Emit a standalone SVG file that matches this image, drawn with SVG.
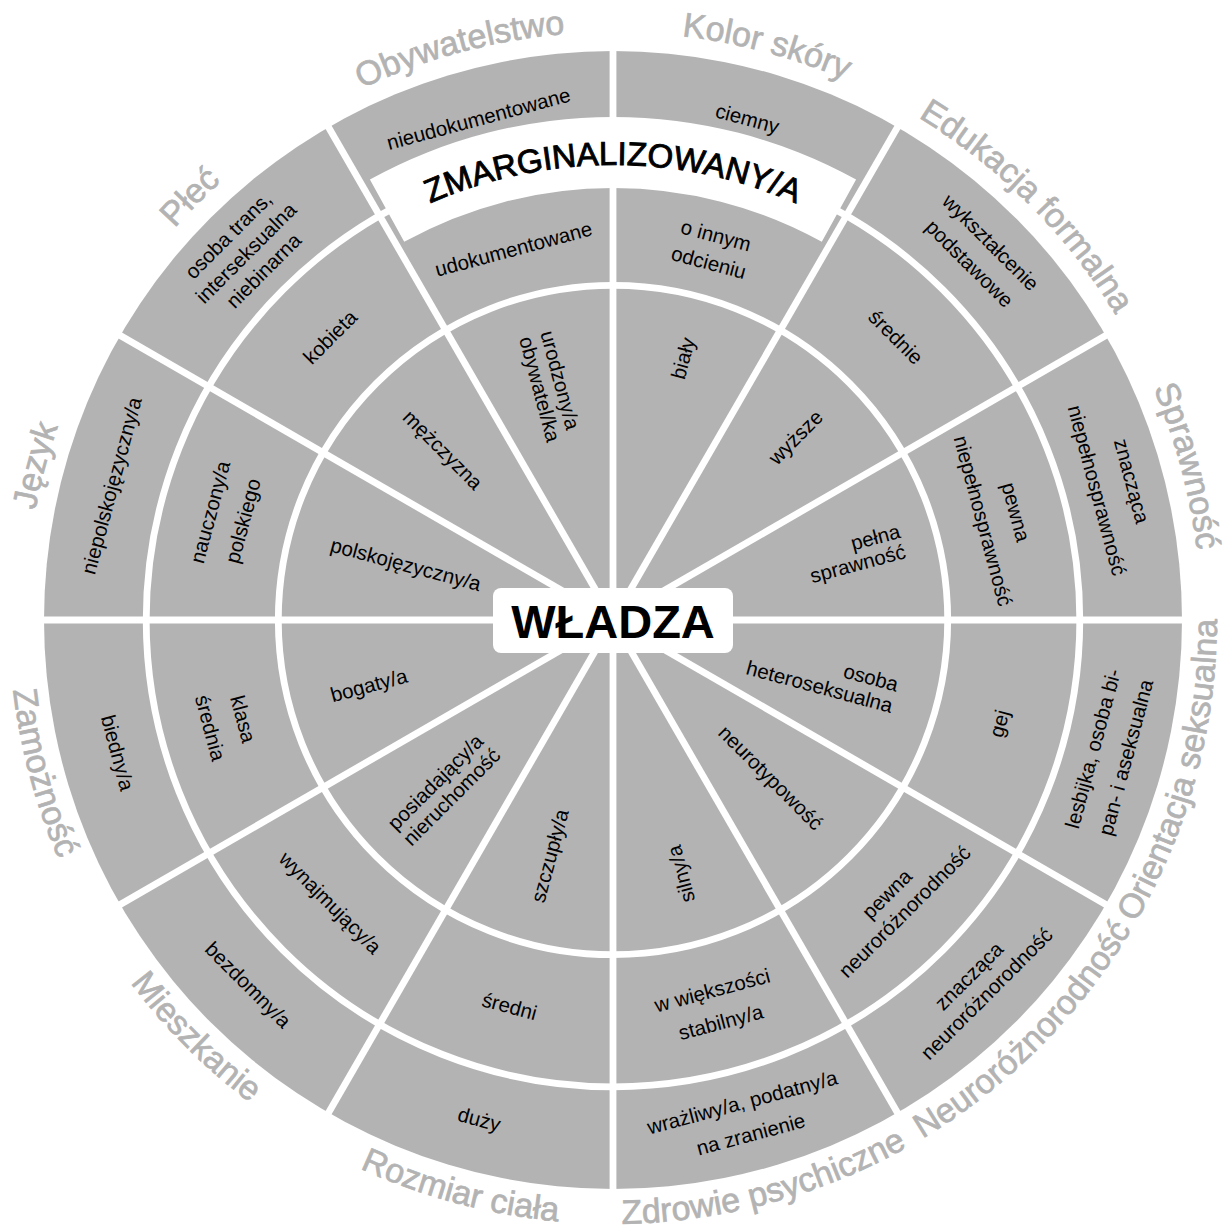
<svg xmlns="http://www.w3.org/2000/svg" xmlns:xlink="http://www.w3.org/1999/xlink" width="1230" height="1230" viewBox="0 0 1230 1230">
<style>
.t{font-family:"Liberation Sans",Arial,sans-serif;font-size:20.5px;fill:#000}
.lbl{font-family:"Liberation Sans",Arial,sans-serif;font-size:34px;fill:#b3b3b3;stroke:#b3b3b3;stroke-width:0.7}
.gap{stroke:#fff;stroke-width:6.8;fill:none}
</style>
<defs>
<path id="arcTop" d="M 103.8 326 A 588 588 0 0 1 1122.2 326"/>
<path id="arcBot" d="M 90.0 922 A 604 604 0 0 0 1136.0 922"/>
<path id="arcBand" d="M 218.95 392.5 A 455 455 0 0 1 1007.05 392.5"/>
</defs>
<rect width="1230" height="1230" fill="#fff"/>
<g id="wheel">
<circle cx="613" cy="620" r="569" fill="#b3b3b3"/>
<circle class="gap" cx="613" cy="620" r="334.7"/>
<circle class="gap" cx="613" cy="620" r="466.8"/>
<g class="gap">
<line x1="613" y1="620" x2="613" y2="45"/>
<line x1="613" y1="620" x2="613" y2="45" transform="rotate(30 613 620)"/>
<line x1="613" y1="620" x2="613" y2="45" transform="rotate(60 613 620)"/>
<line x1="613" y1="620" x2="613" y2="45" transform="rotate(90 613 620)"/>
<line x1="613" y1="620" x2="613" y2="45" transform="rotate(120 613 620)"/>
<line x1="613" y1="620" x2="613" y2="45" transform="rotate(150 613 620)"/>
<line x1="613" y1="620" x2="613" y2="45" transform="rotate(180 613 620)"/>
<line x1="613" y1="620" x2="613" y2="45" transform="rotate(210 613 620)"/>
<line x1="613" y1="620" x2="613" y2="45" transform="rotate(240 613 620)"/>
<line x1="613" y1="620" x2="613" y2="45" transform="rotate(270 613 620)"/>
<line x1="613" y1="620" x2="613" y2="45" transform="rotate(300 613 620)"/>
<line x1="613" y1="620" x2="613" y2="45" transform="rotate(330 613 620)"/>
</g>
</g>
<g id="band-zmarginalizowany">
<path d="M 369.9 179.6 A 503 503 0 0 1 856.1 179.6 L 821.8 241.8 A 432 432 0 0 0 404.2 241.8 Z" fill="#fff"/>
<text font-family="Liberation Sans, Arial, sans-serif" font-size="33" fill="#000" stroke="#000" stroke-width="0.9"><textPath xlink:href="#arcBand" href="#arcBand" startOffset="50%" text-anchor="middle">ZMARGINALIZOWANY/A</textPath></text>
</g>
<g id="center-wladza">
<rect x="493" y="588" width="240" height="65" rx="8" fill="#fff"/>
<text x="613" y="638" text-anchor="middle" font-family="Liberation Sans, Arial, sans-serif" font-size="47" font-weight="bold" fill="#000">WŁADZA</text>
</g>
<g id="labels">
<text class="lbl" transform="rotate(15 613 620)"><textPath href="#arcTop" xlink:href="#arcTop" startOffset="50%" text-anchor="middle">Kolor skóry</textPath></text>
<text class="lbl" transform="rotate(45 613 620)"><textPath href="#arcTop" xlink:href="#arcTop" startOffset="50%" text-anchor="middle">Edukacja formalna</textPath></text>
<text class="lbl" transform="rotate(75 613 620)"><textPath href="#arcTop" xlink:href="#arcTop" startOffset="50%" text-anchor="middle">Sprawność</textPath></text>
<text class="lbl" transform="rotate(-75 613 620)"><textPath href="#arcBot" xlink:href="#arcBot" startOffset="50%" text-anchor="middle">Orientacja seksualna</textPath></text>
<text class="lbl" transform="rotate(-45 613 620)"><textPath href="#arcBot" xlink:href="#arcBot" startOffset="50%" text-anchor="middle">Neuroróżnorodność</textPath></text>
<text class="lbl" transform="rotate(-15 613 620)"><textPath href="#arcBot" xlink:href="#arcBot" startOffset="50%" text-anchor="middle">Zdrowie psychiczne</textPath></text>
<text class="lbl" transform="rotate(15 613 620)"><textPath href="#arcBot" xlink:href="#arcBot" startOffset="50%" text-anchor="middle">Rozmiar ciała</textPath></text>
<text class="lbl" transform="rotate(45 613 620)"><textPath href="#arcBot" xlink:href="#arcBot" startOffset="50%" text-anchor="middle">Mieszkanie</textPath></text>
<text class="lbl" transform="rotate(75 613 620)"><textPath href="#arcBot" xlink:href="#arcBot" startOffset="50%" text-anchor="middle">Zamożność</textPath></text>
<text class="lbl" transform="rotate(-75 613 620)"><textPath href="#arcTop" xlink:href="#arcTop" startOffset="50%" text-anchor="middle">Język</textPath></text>
<text class="lbl" transform="rotate(-45 613 620)"><textPath href="#arcTop" xlink:href="#arcTop" startOffset="50%" text-anchor="middle">Płeć</textPath></text>
<text class="lbl" transform="rotate(-15 613 620)"><textPath href="#arcTop" xlink:href="#arcTop" startOffset="50%" text-anchor="middle">Obywatelstwo</textPath></text>
</g>
<g id="sector-kolor-skory">
<text class="t" text-anchor="end" y="7" transform="rotate(15 613 620) translate(613 328) rotate(-90)">biały</text>
<text class="t" text-anchor="middle" transform="rotate(15 613 620) translate(613 236)"><tspan x="0" y="-7">o innym</tspan><tspan x="0" y="21">odcieniu</tspan></text>
<text class="t" text-anchor="middle" y="7" transform="rotate(15 613 620) translate(613 101)">ciemny</text>
</g>
<g id="sector-edukacja">
<text class="t" text-anchor="end" y="7" transform="rotate(45 613 620) translate(613 328) rotate(-90)">wyższe</text>
<text class="t" text-anchor="middle" y="7" transform="rotate(45 613 620) translate(613 220)">średnie</text>
<text class="t" text-anchor="middle" transform="rotate(45 613 620) translate(613 101)"><tspan x="0" y="-8">wykształcenie</tspan><tspan x="0" y="22">podstawowe</tspan></text>
</g>
<g id="sector-sprawnosc">
<text class="t" text-anchor="end" transform="rotate(75 613 620) translate(613 320) rotate(-90)"><tspan x="0" y="-5">pełna</tspan><tspan x="0" y="16">sprawność</tspan></text>
<text class="t" text-anchor="middle" transform="rotate(75 613 620) translate(613 220)"><tspan x="0" y="-10">pewna</tspan><tspan x="0" y="24">niepełnosprawność</tspan></text>
<text class="t" text-anchor="middle" transform="rotate(75 613 620) translate(613 101)"><tspan x="0" y="-11">znacząca</tspan><tspan x="0" y="25">niepełnosprawność</tspan></text>
</g>
<g id="sector-orientacja">
<text class="t" text-anchor="end" transform="rotate(105 613 620) translate(613 328) rotate(-90)"><tspan x="0" y="-4">osoba</tspan><tspan x="0" y="18">heteroseksualna</tspan></text>
<text class="t" text-anchor="middle" y="7" transform="rotate(105 613 620) translate(613 220) rotate(180)">gej</text>
<text class="t" text-anchor="middle" transform="rotate(105 613 620) translate(613 106) rotate(180)"><tspan x="0" y="-10">lesbijka, osoba bi-</tspan><tspan x="0" y="24">pan- i aseksualna</tspan></text>
</g>
<g id="sector-neuroroznorodnosc">
<text class="t" text-anchor="end" y="7" transform="rotate(135 613 620) translate(613 328) rotate(-90)">neurotypowość</text>
<text class="t" text-anchor="middle" transform="rotate(135 613 620) translate(613 220) rotate(180)"><tspan x="0" y="-5.5">pewna</tspan><tspan x="0" y="19.5">neuroróżnorodność</tspan></text>
<text class="t" text-anchor="middle" transform="rotate(135 613 620) translate(613 104) rotate(180)"><tspan x="0" y="-5.5">znacząca</tspan><tspan x="0" y="19.5">neuroróżnorodność</tspan></text>
</g>
<g id="sector-zdrowie">
<text class="t" text-anchor="start" y="7" transform="rotate(165 613 620) translate(613 328) rotate(90)">silny/a</text>
<text class="t" text-anchor="middle" transform="rotate(165 613 620) translate(613 220) rotate(180)"><tspan x="0" y="-9.5">w większości</tspan><tspan x="0" y="23.5">stabilny/a</tspan></text>
<text class="t" text-anchor="middle" transform="rotate(165 613 620) translate(613 104) rotate(180)"><tspan x="0" y="-9.5">wrażliwy/a, podatny/a</tspan><tspan x="0" y="23.5">na zranienie</tspan></text>
</g>
<g id="sector-rozmiar">
<text class="t" text-anchor="start" y="7" transform="rotate(195 613 620) translate(613 328) rotate(90)">szczupły/a</text>
<text class="t" text-anchor="middle" y="7" transform="rotate(195 613 620) translate(613 220) rotate(180)">średni</text>
<text class="t" text-anchor="middle" y="7" transform="rotate(195 613 620) translate(613 103) rotate(180)">duży</text>
</g>
<g id="sector-mieszkanie">
<text class="t" text-anchor="start" transform="rotate(225 613 620) translate(613 317) rotate(90)"><tspan x="0" y="-4">posiadający/a</tspan><tspan x="0" y="18">nieruchomość</tspan></text>
<text class="t" text-anchor="middle" y="7" transform="rotate(225 613 620) translate(613 220) rotate(180)">wynajmujący/a</text>
<text class="t" text-anchor="middle" y="7" transform="rotate(225 613 620) translate(613 104) rotate(180)">bezdomny/a</text>
</g>
<g id="sector-zamoznosc">
<text class="t" text-anchor="start" y="7" transform="rotate(255 613 620) translate(613 328) rotate(90)">bogaty/a</text>
<text class="t" text-anchor="middle" transform="rotate(255 613 620) translate(613 220) rotate(180)"><tspan x="0" y="-10">klasa</tspan><tspan x="0" y="24">średnia</tspan></text>
<text class="t" text-anchor="middle" y="7" transform="rotate(255 613 620) translate(613 107) rotate(180)">biedny/a</text>
</g>
<g id="sector-jezyk">
<text class="t" text-anchor="start" y="7" transform="rotate(285 613 620) translate(613 328) rotate(90)">polskojęzyczny/a</text>
<text class="t" text-anchor="middle" transform="rotate(285 613 620) translate(613 220)"><tspan x="0" y="-10">nauczony/a</tspan><tspan x="0" y="24">polskiego</tspan></text>
<text class="t" text-anchor="middle" y="7" transform="rotate(285 613 620) translate(613 101)">niepolskojęzyczny/a</text>
</g>
<g id="sector-plec">
<text class="t" text-anchor="start" y="7" transform="rotate(315 613 620) translate(613 328) rotate(90)">mężczyzna</text>
<text class="t" text-anchor="middle" y="7" transform="rotate(315 613 620) translate(613 220)">kobieta</text>
<text class="t" text-anchor="middle" transform="rotate(315 613 620) translate(613 101)"><tspan x="0" y="-18">osoba trans,</tspan><tspan x="0" y="7">interseksualna</tspan><tspan x="0" y="32">niebinarna</tspan></text>
</g>
<g id="sector-obywatelstwo">
<text class="t" text-anchor="start" transform="rotate(345 613 620) translate(613 324) rotate(90)"><tspan x="0" y="-4">urodzony/a</tspan><tspan x="0" y="18">obywatel/ka</tspan></text>
<text class="t" text-anchor="middle" y="7" transform="rotate(345 613 620) translate(613 236)">udokumentowane</text>
<text class="t" text-anchor="middle" y="7" transform="rotate(345 613 620) translate(613 101)">nieudokumentowane</text>
</g>
</svg>
